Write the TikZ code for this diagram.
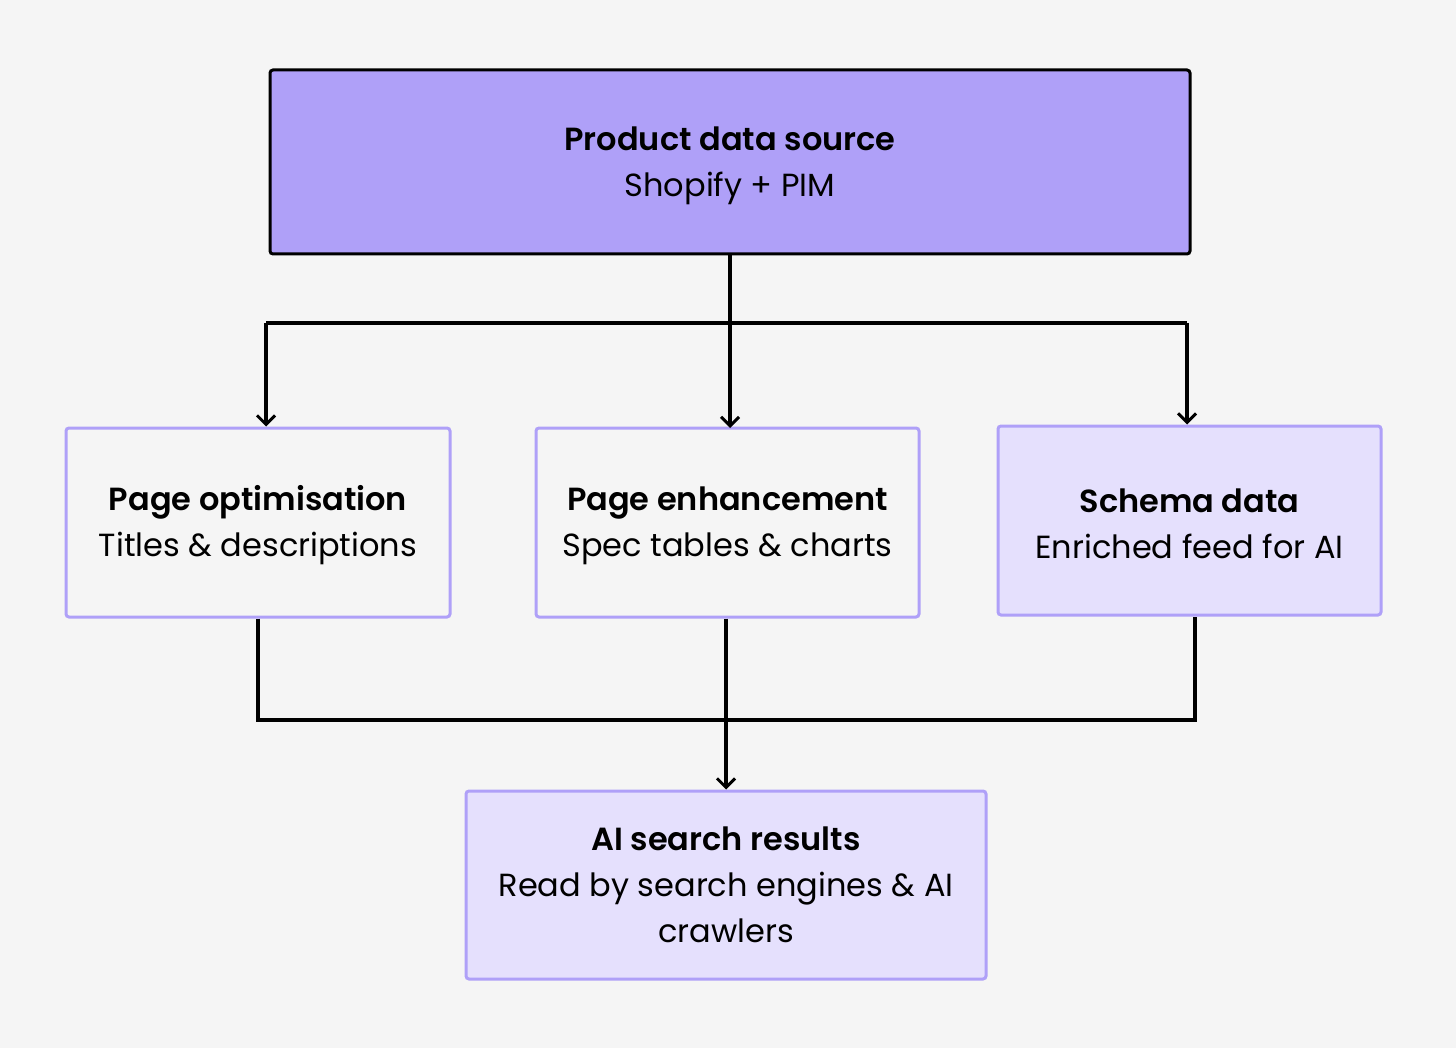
\documentclass[tikz,border=0pt]{standalone}
\usepackage{fontspec}
\setmainfont{Poppins}[BoldFont={Poppins SemiBold}]
\usetikzlibrary{arrows.meta}
\definecolor{bg}{HTML}{F5F5F5}
\definecolor{topfill}{HTML}{AFA0F8}
\definecolor{lilac}{HTML}{AFA0F8}
\definecolor{pale}{HTML}{E5E0FD}
\newcommand{\toppad}{\rule{0pt}{31pt}}
\tikzset{
  box/.style={draw=lilac, line width=3pt, rounded corners=3pt, align=center, inner sep=0pt,
    font=\fontsize{32}{46}\selectfont, text=black},
  conn/.style={line width=3.2pt, draw=black},
  arr/.style={conn, -{Straight Barb[length=9pt,width=18pt,line width=3pt]}}
}
\begin{document}
\begin{tikzpicture}[x=1pt,y=-1pt]
\fill[bg] (0,0) rectangle (1456,1048);
\useasboundingbox (0,0) rectangle (1456,1048);
\node[box, draw=black, fill=topfill, minimum width=920pt, minimum height=184pt] (top) at (730,162)
  {\toppad\textbf{Product data source}\\Shopify + PIM};
\node[box, fill=bg, minimum width=384pt, minimum height=189pt] (opt) at (258,522.5)
  {\toppad\textbf{Page optimisation}\\Titles \& descriptions};
\node[box, fill=bg, minimum width=383pt, minimum height=189pt] (enh) at (727.5,522.5)
  {\toppad\textbf{Page enhancement}\\Spec tables \& charts};
\node[box, fill=pale, minimum width=383pt, minimum height=189pt] (sch) at (1189.5,520.5)
  {\toppad\textbf{Schema data}\\Enriched feed for AI};
\node[box, fill=pale, minimum width=520pt, minimum height=188pt] (ai) at (726,885)
  {\textbf{AI search results}\\Read by search engines \& AI\\crawlers};
\coordinate (hl) at (266,323);
\coordinate (hr) at (1187,323);
\coordinate (bl) at (258,720);
\coordinate (br) at (1195,720);
\draw[arr] (top.south -| 730,0) -- (730,428);
\draw[conn] (hl) -- (hr);
\draw[arr] (hl) -- (hl |- opt.north);
\draw[arr] (hr) -- (hr |- sch.north);
\draw[conn] (opt.south) -- (bl) -- (br) -- (br |- sch.south);
\draw[arr] (enh.south -| ai.north) -- (ai.north);
\end{tikzpicture}
\end{document}
